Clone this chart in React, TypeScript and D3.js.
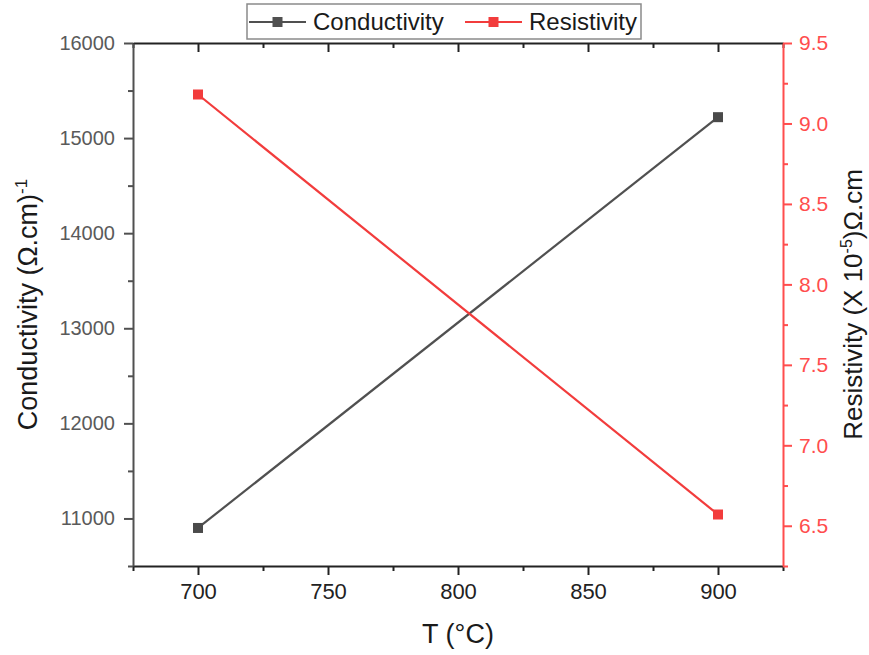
import React, { useEffect, useRef } from "react";
import * as d3 from "d3";

const temperatures = [700, 900];
const conductivity = [10900, 15220];
const resistivity = [9.18, 6.57];
const xMajorTicks = [700, 750, 800, 850, 900];
const xMinorTicks = [675, 725, 775, 825, 875, 925];
const yLeftMajorTicks = [11000, 12000, 13000, 14000, 15000, 16000];
const yLeftMinorTicks = [10500, 11500, 12500, 13500, 14500, 15500];
const yRightMajorTicks = [6.5, 7.0, 7.5, 8.0, 8.5, 9.0, 9.5];
const yRightMinorTicks = [6.25, 6.75, 7.25, 7.75, 8.25, 8.75, 9.25];

const W = 869;
const H = 655;
const M = { left: 133, right: 783, top: 43, bottom: 566 };
const GRAY = "#505050";
const RED = "#f23c3c";
const RED_AXIS = "#ff4d4d";
const FONT = "Liberation Sans, Arial, sans-serif";

export default function App() {
  const ref = useRef<SVGSVGElement>(null);
  useEffect(() => {
    const svg = d3.select(ref.current);
    svg.selectAll("*").remove();
    const x = d3.scaleLinear().domain([675, 925]).range([M.left, M.right]);
    const yL = d3.scaleLinear().domain([10500, 16000]).range([M.bottom, M.top]);
    const yR = d3.scaleLinear().domain([6.25, 9.5]).range([M.bottom, M.top]);

    const styleAxis = (g: any, color: string, textColor: string, size: number) => {
      g.selectAll("path").attr("stroke", color).attr("stroke-width", 2);
      g.selectAll("line").attr("stroke", color).attr("stroke-width", 2);
      g.selectAll("text").attr("fill", textColor).attr("font-size", size).attr("font-family", FONT);
    };

    // Bottom axis
    const gb = svg.append("g").attr("transform", `translate(0,${M.bottom})`);
    gb.call(d3.axisBottom(x).tickValues(xMajorTicks).tickSize(9).tickSizeOuter(0).tickPadding(8).tickFormat(d3.format("d")) as any);
    styleAxis(gb, "#222", "#222", 22);
    const gbm = svg.append("g").attr("transform", `translate(0,${M.bottom})`);
    gbm.call(d3.axisBottom(x).tickValues(xMinorTicks).tickSize(5).tickSizeOuter(0).tickFormat(() => "") as any);
    styleAxis(gbm, "#222", "#222", 22);
    gbm.select("path").remove();

    // Top axis (inward ticks)
    const gt = svg.append("g").attr("transform", `translate(0,${M.top})`);
    gt.call(d3.axisBottom(x).tickValues(xMajorTicks).tickSize(9).tickSizeOuter(0).tickFormat(() => "") as any);
    styleAxis(gt, "#222", "#222", 22);
    const gtm = svg.append("g").attr("transform", `translate(0,${M.top})`);
    gtm.call(d3.axisBottom(x).tickValues(xMinorTicks).tickSize(5).tickSizeOuter(0).tickFormat(() => "") as any);
    styleAxis(gtm, "#222", "#222", 22);
    gtm.select("path").remove();

    // Left axis
    const gl = svg.append("g").attr("transform", `translate(${M.left},0)`);
    gl.call(d3.axisLeft(yL).tickValues(yLeftMajorTicks).tickSize(9).tickSizeOuter(0).tickPadding(9).tickFormat(d3.format("d")) as any);
    styleAxis(gl, GRAY, "#5a5a5a", 20);
    const glm = svg.append("g").attr("transform", `translate(${M.left},0)`);
    glm.call(d3.axisLeft(yL).tickValues(yLeftMinorTicks).tickSize(5).tickSizeOuter(0).tickFormat(() => "") as any);
    styleAxis(glm, GRAY, GRAY, 20);
    glm.select("path").remove();

    // Right axis
    const gr = svg.append("g").attr("transform", `translate(${M.right},0)`);
    gr.call(d3.axisRight(yR).tickValues(yRightMajorTicks).tickSize(9).tickSizeOuter(0).tickPadding(7).tickFormat(d3.format(".1f")) as any);
    styleAxis(gr, RED_AXIS, RED_AXIS, 21);
    const grm = svg.append("g").attr("transform", `translate(${M.right},0)`);
    grm.call(d3.axisRight(yR).tickValues(yRightMinorTicks).tickSize(5).tickSizeOuter(0).tickFormat(() => "") as any);
    styleAxis(grm, RED_AXIS, RED_AXIS, 21);
    grm.select("path").remove();

    // Lines
    const lineL = d3.line<number>().x((_, i) => x(temperatures[i])).y((d) => yL(d));
    const lineR = d3.line<number>().x((_, i) => x(temperatures[i])).y((d) => yR(d));
    svg.append("path").attr("d", lineL(conductivity)).attr("fill", "none").attr("stroke", GRAY).attr("stroke-width", 2.2);
    svg.append("path").attr("d", lineR(resistivity)).attr("fill", "none").attr("stroke", RED).attr("stroke-width", 2.2);
    const ms = 10;
    svg.selectAll(".mc").data(conductivity).enter().append("rect")
      .attr("x", (_, i) => x(temperatures[i]) - ms / 2).attr("y", (d) => yL(d) - ms / 2)
      .attr("width", ms).attr("height", ms).attr("fill", "#4a4a4a");
    svg.selectAll(".mr").data(resistivity).enter().append("rect")
      .attr("x", (_, i) => x(temperatures[i]) - ms / 2).attr("y", (d) => yR(d) - ms / 2)
      .attr("width", ms).attr("height", ms).attr("fill", RED);

    // Axis titles
    svg.append("text").attr("x", (M.left + M.right) / 2).attr("y", 643).attr("text-anchor", "middle")
      .attr("font-family", FONT).attr("font-size", 27).attr("fill", "#1a1a1a").text("T (°C)");

    const tl = svg.append("text").attr("transform", `translate(37,${(M.top + M.bottom) / 2}) rotate(-90)`)
      .attr("text-anchor", "middle").attr("font-family", FONT).attr("font-size", 27).attr("fill", "#1a1a1a");
    tl.append("tspan").text("Conductivity (Ω.cm)");
    tl.append("tspan").attr("dy", -10).attr("font-size", 17).text("-1");

    const tr = svg.append("text").attr("transform", `translate(862,${(M.top + M.bottom) / 2}) rotate(-90)`)
      .attr("text-anchor", "middle").attr("font-family", FONT).attr("font-size", 26).attr("fill", "#1a1a1a");
    tr.append("tspan").text("Resistivity (X 10");
    tr.append("tspan").attr("dy", -10).attr("font-size", 16).text("-5");
    tr.append("tspan").attr("dy", 10).text(")Ω.cm");

    // Legend
    const lg = svg.append("g");
    lg.append("rect").attr("x", 247).attr("y", 4).attr("width", 394).attr("height", 35)
      .attr("fill", "#fff").attr("stroke", "#8a8a8a").attr("stroke-width", 1.5);
    const items = [
      { label: "Conductivity", color: GRAY, x0: 249 },
      { label: "Resistivity", color: RED, x0: 465 },
    ];
    items.forEach((it) => {
      lg.append("line").attr("x1", it.x0).attr("x2", it.x0 + 57).attr("y1", 22).attr("y2", 22)
        .attr("stroke", it.color).attr("stroke-width", 2);
      lg.append("rect").attr("x", it.x0 + 28.5 - 5).attr("y", 17).attr("width", 10).attr("height", 10).attr("fill", it.color);
      lg.append("text").attr("x", it.x0 + 64).attr("y", 30).attr("font-family", FONT).attr("font-size", 24)
        .attr("fill", "#1a1a1a").text(it.label);
    });
  }, []);

  return (
    <svg ref={ref} width={W} height={H} style={{ position: "absolute", left: 0, top: 0, background: "#fff" }} />
  );
}
